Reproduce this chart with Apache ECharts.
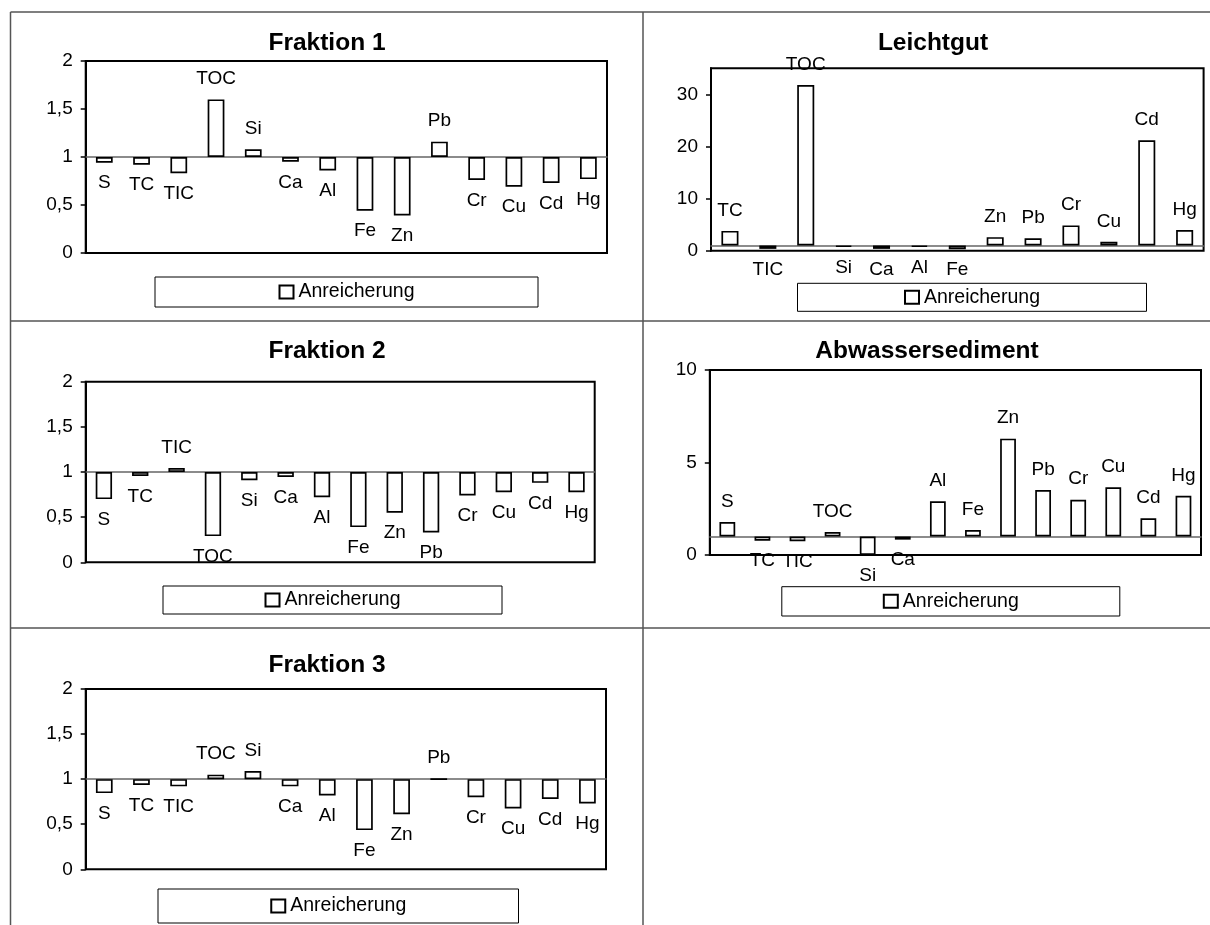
<!DOCTYPE html>
<html><head><meta charset="utf-8">
<script src="https://cdn.jsdelivr.net/npm/echarts@6/dist/echarts.min.js"></script>
<style>html,body{margin:0;padding:0;background:#fff}#main{width:1210px;height:925px}</style>
</head><body><div id="main"></div>
<script>
// ---------------- data ----------------
const categories = ['S','TC','TIC','TOC','Si','Ca','Al','Fe','Zn','Pb','Cr','Cu','Cd','Hg'];
const categoriesLeichtgut = ['TC','TIC','TOC','Si','Ca','Al','Fe','Zn','Pb','Cr','Cu','Cd','Hg'];
const fraktion1 = [0.94, 0.92, 0.83, 1.60, 1.08, 0.95, 0.86, 0.44, 0.39, 1.16, 0.76, 0.69, 0.73, 0.77];
const fraktion2 = [0.70, 0.955, 1.045, 0.29, 0.91, 0.945, 0.72, 0.39, 0.55, 0.33, 0.74, 0.775, 0.88, 0.775];
const fraktion3 = [0.845, 0.935, 0.92, 1.05, 1.09, 0.92, 0.82, 0.435, 0.61, 1.0, 0.80, 0.675, 0.78, 0.73];
const leichtgut = [3.8, 0.35, 31.8, 0.7, 0.35, 0.7, 0.3, 2.6, 2.4, 4.85, 1.7, 21.2, 3.95];
const abwassersediment = [1.78, 0.77, 0.74, 1.24, 0.0, 0.83, 2.9, 1.35, 6.29, 3.51, 2.99, 3.66, 1.98, 3.2];
const ticksFraktion = [0, 0.5, 1, 1.5, 2];
const ticksLeichtgut = [0, 10, 20, 30];
const ticksAbwasser = [0, 5, 10];
const baseline = 1;
const legendName = 'Anreicherung';
const titles = ['Fraktion 1', 'Leichtgut', 'Fraktion 2', 'Abwassersediment', 'Fraktion 3'];

// ---------------- layout ----------------
const FONT = "'Liberation Sans', Arial, sans-serif";
const panels = [
  {title: titles[0], cats: categories, vals: fraktion1, ticks: ticksFraktion, yMax: 2,
   grid: [85.7, 61, 521.3, 192], tc: [327, 43.5], lb: [155, 277, 382, 30], up: 6, down: 6},
  {title: titles[1], cats: categoriesLeichtgut, vals: leichtgut, ticks: ticksLeichtgut, yMax: 35,
   grid: [711, 68.3, 492.6, 182.4], tc: [933, 43.5], lb: [797.5, 283.3, 348, 28], up: 7, down: 4},
  {title: titles[2], cats: categories, vals: fraktion2, ticks: ticksFraktion, yMax: 2,
   grid: [85.7, 381.7, 509, 180.6], tc: [327, 351.7], lb: [163, 586, 338, 28], up: 6, down: 6},
  {title: titles[3], cats: categories, vals: abwassersediment, ticks: ticksAbwasser, yMax: 10,
   grid: [709.8, 370, 491.2, 185], tc: [927, 351.7], lb: [781.8, 586.7, 337, 29.3], up: 6, down: 6},
  {title: titles[4], cats: categories, vals: fraktion3, ticks: ticksFraktion, yMax: 2,
   grid: [85.7, 689, 520.3, 180.3], tc: [327, 665], lb: [158, 889, 359.5, 34], up: 6, down: 6}
];

const LEG_FONT = 19.5;
const ctx = document.createElement('canvas').getContext('2d');
ctx.font = LEG_FONT + 'px "Liberation Sans"';
const legTextW = ctx.measureText(legendName).width;
const ICON_W = 14, ICON_H = 13, LEG_LH = 20;

const option = {
  animation: false,
  backgroundColor: '#fff',
  title: [], grid: [], xAxis: [], yAxis: [], series: [], legend: [],
  graphic: {elements: []}
};

panels.forEach((p, i) => {
  const yMin = p.ticks[0], yMax = p.yMax, yInt = p.ticks[1] - p.ticks[0];
  const [gl, gt, gw, gh] = p.grid;
  option.title.push({
    text: p.title, left: p.tc[0], top: p.tc[1], textAlign: 'center', textVerticalAlign: 'middle', padding: 0,
    textStyle: {fontFamily: FONT, fontSize: 24.5, fontWeight: 'bold', color: '#000'}
  });
  option.grid.push({left: gl, top: gt, width: gw, height: gh, show: true, borderColor: '#000', borderWidth: 2,
    backgroundColor: 'rgba(0,0,0,0)', containLabel: false, outerBoundsMode: 'none'});
  const fracBelow = (baseline - yMin) / (yMax - yMin);
  // category axis drawn along y = 1 (ticks downward)
  option.xAxis.push({
    type: 'category', gridIndex: i, data: p.cats, position: 'bottom', offset: -fracBelow * gh,
    axisLine: {onZero: false, lineStyle: {color: '#666', width: 1.5}},
    axisTick: {length: p.down, lineStyle: {color: '#666', width: 1.5}},
    axisLabel: {show: false}, splitLine: {show: false}
  });
  // twin axis for upward ticks
  option.xAxis.push({
    type: 'category', gridIndex: i, data: p.cats, position: 'top', offset: -(1 - fracBelow) * gh,
    axisLine: {show: false, onZero: false},
    axisTick: {length: p.up, lineStyle: {color: '#666', width: 1.5}},
    axisLabel: {show: false}, splitLine: {show: false}
  });
  option.yAxis.push({
    type: 'value', gridIndex: i, min: yMin, max: yMax, interval: yInt,
    axisLine: {show: true, onZero: false, lineStyle: {color: '#000', width: 2}},
    axisTick: {show: true, length: 5, customValues: p.ticks, lineStyle: {color: '#000', width: 1.5}},
    splitLine: {show: false},
    axisLabel: {
      color: '#000', fontFamily: FONT, fontSize: 19, margin: 13, customValues: p.ticks,
      formatter: v => (p.ticks.indexOf(v) >= 0 ? String(v).replace('.', ',') : '')
    }
  });
  option.series.push({
    type: 'bar', name: '_base' + i, xAxisIndex: 2 * i, yAxisIndex: i, stack: 'st' + i, silent: true,
    barWidth: '45%', itemStyle: {color: 'rgba(0,0,0,0)'}, label: {show: false},
    data: p.vals.map(v => Math.min(v, baseline))
  });
  option.series.push({
    type: 'bar', name: legendName, xAxisIndex: 2 * i, yAxisIndex: i, stack: 'st' + i,
    barWidth: '45%', itemStyle: {color: '#fff', borderColor: '#000', borderWidth: 1.7},
    label: {show: true, formatter: '{b}', distance: 11, color: '#000', fontFamily: FONT, fontSize: 19},
    data: p.vals.map(v => ({value: Math.abs(v - baseline), label: {position: v >= baseline ? 'top' : 'bottom'}}))
  });
  const [lx, ly, lw, lh] = p.lb;
  const contentW = ICON_W + 5 + legTextW;
  option.legend.push({
    data: [legendName], left: lx, top: ly, orient: 'horizontal', selectedMode: false,
    padding: [(lh - LEG_LH) / 2, (lw - contentW) / 2],
    borderColor: '#000', borderWidth: 1, backgroundColor: '#fff',
    icon: 'rect', itemWidth: ICON_W, itemHeight: ICON_H,
    itemStyle: {color: '#fff', borderColor: '#000', borderWidth: 2},
    textStyle: {fontFamily: FONT, fontSize: LEG_FONT, color: '#000', lineHeight: LEG_LH}
  });
});

// table cell borders
const cellLines = [
  [10.5, 12, 1210, 12], [10.5, 12, 10.5, 925], [643, 12, 643, 925],
  [10.5, 321, 1210, 321], [10.5, 628, 1210, 628]
];
cellLines.forEach(l => option.graphic.elements.push({
  type: 'line', shape: {x1: l[0], y1: l[1], x2: l[2], y2: l[3]},
  style: {stroke: '#555', lineWidth: 1.5}, silent: true
}));

const chart = echarts.init(document.getElementById('main'), null, {renderer: 'canvas', width: 1210, height: 925});
chart.setOption(option);
</script>
</body></html>
